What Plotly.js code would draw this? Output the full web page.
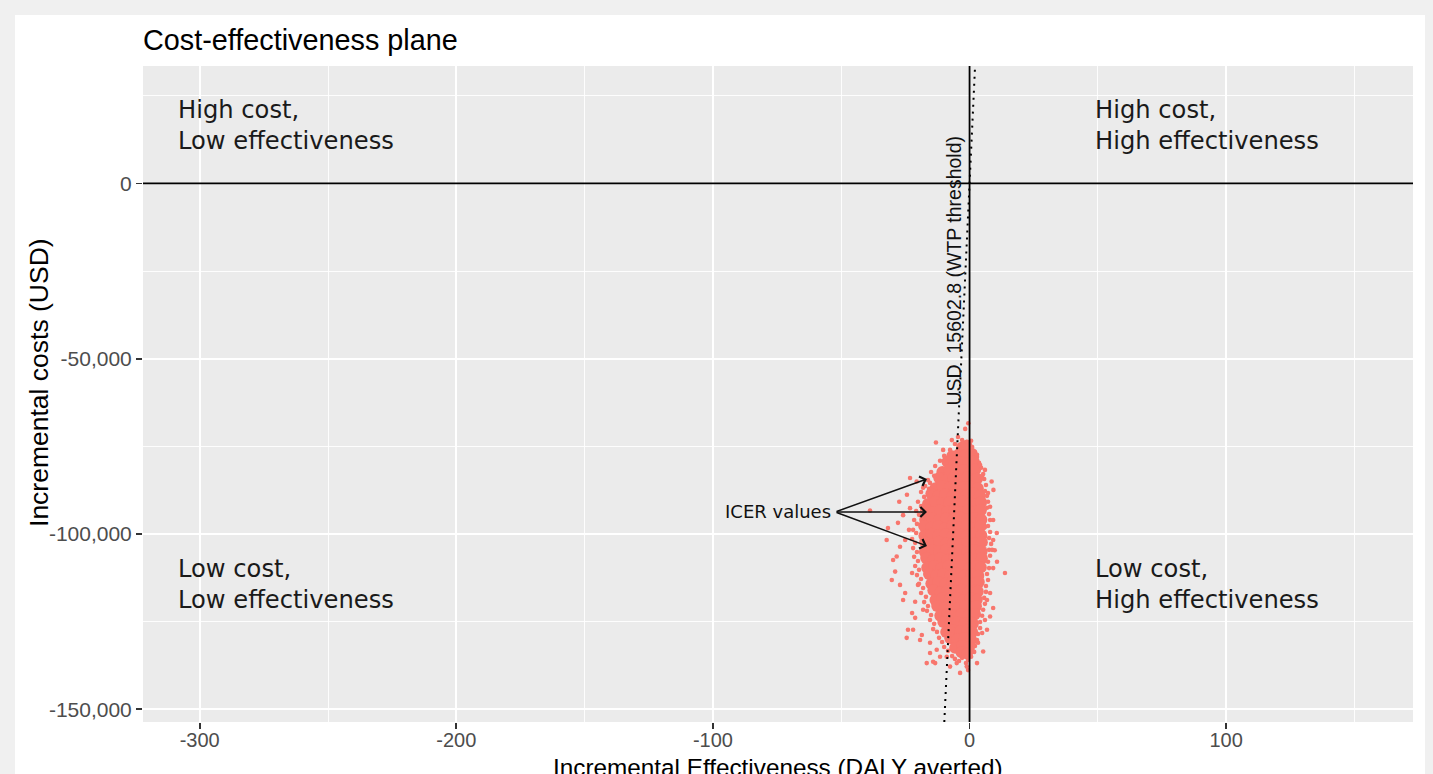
<!DOCTYPE html>
<html>
<head>
<meta charset="utf-8">
<script src="https://cdn.plot.ly/plotly-3.0.1.min.js"></script>
<style>
  html, body { margin: 0; padding: 0; background: #f0f0f0; width: 1433px; height: 774px; overflow: hidden; }
  #card { position: absolute; left: 15px; top: 15px; width: 1410px; height: 759px; background: #ffffff; }
  #plot { position: absolute; left: 0; top: 0; width: 1410px; height: 759px; }
</style>
</head>
<body>
<div id="card"><div id="plot"></div></div>
<script>
// ---------------- data ----------------
const chartTitle = "Cost-effectiveness plane";
const xTitle = "Incremental Effectiveness (DALY averted)";
const yTitle = "Incremental costs (USD)";

const xTickVals = [-300, -200, -100, 0, 100];
const xTickText = ["-300", "-200", "-100", "0", "100"];
const xMinorVals = [-250, -150, -50, 50, 150];
const yTickVals = [0, -50000, -100000, -150000];
const yTickText = ["0", "-50,000", "-100,000", "-150,000"];
const yMinorVals = [25000, -25000, -75000, -125000];

const xRange = [-322.1, 172.8];
const yRange = [-153600, 33500];

const wtp = 15602.8;
const wtpLabel = "USD\u00a0 15602.8 (WTP threshold)";
const wtpLabelPos = [-5.9, -24700];

const quadrantText = [
  "High cost,<br>Low effectiveness",
  "High cost,<br>High effectiveness",
  "Low cost,<br>Low effectiveness",
  "Low cost,<br>High effectiveness"
];
const quadrantX = [-309.4, 48.0, -309.4, 48.0];
const quadrantY = [16600, 16600, -114300, -114300];

const icerLabel = "ICER values";
const icerTail = [-52.4, -93700];
const icerHeadX = [-16.6, -16.6, -16.6];
const icerHeadY = [-84300, -93700, -103400];

// dense core of simulated ICER values [effect, cost]
const cloudCore = [
  [-2.9,-75300],[-1.2,-74800],
  [-6.8,-77800],[-4.1,-77200],[-1.5,-77600],[0.8,-77100],
  [-8.6,-79400],[-5.9,-80100],[-3.2,-79500],[-0.6,-79900],[1.6,-79300],
  [-10.6,-82300],[-7.9,-81700],[-5.1,-82200],[-2.4,-81800],[0.1,-82400],[2.2,-81600],
  [-11.8,-84000],[-9.0,-84600],[-6.3,-84100],[-3.6,-84500],[-0.9,-83900],[1.5,-84700],[2.9,-84200],
  [-13.3,-86900],[-10.5,-86300],[-7.8,-86800],[-5.0,-86200],[-2.3,-86700],[0.4,-86400],[3.2,-86900],
  [-14.9,-88500],[-12.1,-89100],[-9.4,-88600],[-6.6,-89200],[-3.9,-88700],[-1.2,-89000],[1.6,-88400],[4.0,-89100],
  [-16.2,-91400],[-13.4,-90800],[-10.7,-91300],[-7.9,-90900],[-5.2,-91500],[-2.5,-90700],[0.3,-91200],[3.0,-91500],[4.5,-90900],
  [-17.0,-93100],[-14.2,-93700],[-11.5,-93200],[-8.7,-93600],[-6.0,-93100],[-3.3,-93800],[-0.5,-93300],[2.2,-93600],[4.4,-93200],
  [-17.3,-95900],[-14.6,-95400],[-11.9,-96000],[-9.1,-95500],[-6.4,-95900],[-3.6,-95300],[-0.9,-95800],[1.8,-95400],[4.6,-95900],
  [-17.7,-97700],[-15.0,-98200],[-12.2,-97800],[-9.5,-98300],[-6.7,-97600],[-4.0,-98100],[-1.2,-97700],[1.5,-98300],[4.3,-97800],
  [-17.6,-100500],[-14.8,-99900],[-12.1,-100400],[-9.3,-100000],[-6.6,-100600],[-3.8,-100100],[-1.1,-100500],[1.7,-99900],[4.6,-100400],
  [-17.3,-102300],[-14.5,-102800],[-11.8,-102200],[-9.0,-102700],[-6.3,-102400],[-3.5,-102900],[-0.8,-102300],[2.0,-102700],[4.8,-102300],
  [-17.4,-105100],[-14.6,-104600],[-11.9,-105000],[-9.2,-104500],[-6.4,-105200],[-3.7,-104700],[-0.9,-105100],[1.9,-104600],[4.7,-105000],
  [-16.9,-106800],[-14.1,-107400],[-11.4,-106900],[-8.6,-107300],[-5.9,-106800],[-3.2,-107400],[-0.4,-106900],[2.3,-107300],[4.8,-106900],
  [-16.5,-109600],[-13.8,-109100],[-11.0,-109700],[-8.3,-109200],[-5.5,-109600],[-2.8,-109100],[0.0,-109700],[2.6,-109200],[4.4,-109500],
  [-15.8,-111400],[-13.0,-111900],[-10.3,-111400],[-7.5,-111900],[-4.8,-111300],[-2.0,-111800],[0.7,-111500],[3.4,-111900],
  [-14.9,-114200],[-12.2,-113700],[-9.4,-114100],[-6.7,-113600],[-3.9,-114200],[-1.2,-113800],[1.5,-114100],[3.6,-113700],
  [-14.1,-116000],[-11.3,-116500],[-8.6,-116000],[-5.8,-116400],[-3.1,-115900],[-0.3,-116500],[2.4,-116100],[3.2,-116400],
  [-13.3,-118800],[-10.6,-118300],[-7.8,-118700],[-5.1,-118200],[-2.3,-118800],[0.4,-118300],[2.8,-118700],
  [-12.6,-120500],[-9.8,-121000],[-7.1,-120600],[-4.3,-121100],[-1.6,-120500],[1.1,-120900],[2.5,-120600],
  [-11.4,-123300],[-8.7,-122800],[-5.9,-123200],[-3.2,-122900],[-0.4,-123300],[2.1,-122800],
  [-10.2,-125100],[-7.5,-125600],[-4.7,-125200],[-2.0,-125600],[0.7,-125100],[1.3,-125500],
  [-9.1,-127900],[-6.3,-127400],[-3.6,-127800],[-0.8,-127400],[1.0,-127900],
  [-7.5,-129700],[-4.8,-130100],[-2.0,-129700],[0.6,-130200],
  [-5.6,-132400],[-2.9,-131900],[-0.2,-132300],
  [-3.1,-133700],[-1.0,-134100]
];

// scattered edge and outlying ICER values [effect, cost]
const cloudEdge = [
  [-7.6,-76000],[-9.9,-77700],[-11.5,-79100],[-13.4,-80600],[-15.0,-82300],[-13.8,-83400],
  [-16.2,-84600],[-17.3,-86300],[-15.8,-87100],[-18.9,-88000],[-17.7,-89400],[-20.1,-90800],
  [-18.9,-92000],[-20.8,-93400],[-19.7,-94500],[-21.6,-96000],[-20.5,-97100],[-22.0,-98800],
  [-20.8,-99700],[-22.4,-101400],[-21.2,-102500],[-22.0,-104000],[-20.5,-105100],[-21.6,-106500],
  [-20.1,-107700],[-21.2,-109100],[-19.7,-110200],[-20.5,-111700],[-18.9,-112800],[-19.7,-114200],
  [-18.1,-115400],[-18.9,-116800],[-17.0,-117900],[-17.7,-119400],[-16.2,-120500],[-16.6,-121900],
  [-15.0,-123100],[-15.4,-124500],[-13.8,-125600],[-14.2,-127100],[-12.7,-127900],[-11.9,-129600],
  [-10.7,-130800],[-9.9,-132200],[-8.4,-133300],[-6.8,-134800],[-5.7,-135600],[-4.1,-136200],[-2.9,-135300],
  [1.0,-75200],[2.1,-76600],[2.9,-78000],[3.7,-79700],[4.5,-81100],[5.3,-82900],[5.7,-84300],
  [6.4,-86000],[6.0,-87700],[6.8,-89100],[7.2,-90800],[6.8,-92500],[7.6,-94300],[8.0,-96000],
  [7.2,-97700],[8.0,-99400],[7.6,-101100],[8.4,-102800],[7.6,-104500],[8.0,-106200],[7.2,-107900],
  [7.6,-109700],[6.8,-111400],[7.2,-113100],[6.4,-114800],[6.4,-116500],[5.7,-118200],[6.0,-119900],
  [5.3,-121600],[4.9,-123300],[4.1,-125100],[4.1,-126800],[3.3,-128500],[2.9,-130200],[2.1,-131900],
  [1.8,-133600],[0.6,-135000],[-0.6,-135900],[-1.4,-136800],
  [-5.7,-74300],[-2.9,-73200],[-1.0,-73700],[0.6,-73400],[-4.5,-72300],
  [-0.5,-68400],[-1.7,-70000],[-6.9,-73200],[-13.1,-73900],[-10.3,-76000],[4.1,-80300],[6.0,-81700],
  [8.6,-85000],[9.3,-87400],[-23.2,-84000],[-20.6,-85000],[-27.4,-90800],[-38.8,-93300],
  [-23.2,-92600],[-25.9,-94600],[-31.8,-98300],[-32.3,-101700],[-27.1,-103600],[-28.4,-106400],
  [10.6,-99700],[9.2,-101700],[9.8,-104600],[13.8,-111100],[-29.0,-110700],[-30.3,-113100],
  [-27.1,-114500],[-25.1,-116800],[-25.9,-118800],[-21.2,-119300],[-18.1,-121600],[9.2,-121100],
  [8.0,-123500],[6.0,-124500],[-24.0,-127300],[-22.0,-127300],[-24.5,-129600],[-18.6,-128800],
  [-15.4,-131000],[-12.8,-133000],[5.3,-133500],[-16.7,-136800],[-13.4,-136800],[-8.9,-135000],
  [-5.0,-136800],[-1.1,-137800],[-0.6,-138800],
  [-29.8,-107400],[-25.1,-101700],[-22.4,-111100],[-15.4,-85400],[-18.1,-86800],[-24.4,-88800],
  [-27.9,-96800],[-23.6,-98800],[-21.2,-123900],[-22.4,-122500],[-20.1,-114500],[-19.3,-130200],
  [-14.2,-136400],[8.0,-116800],[6.8,-118800],[4.9,-128200],[3.3,-131000],[2.9,-136800],
  [-3.7,-139600],[-7.6,-137800],[-11.5,-135000],[-15.4,-133900],
  [2.9,-77400],[4.9,-83700],[7.2,-88300],[8.0,-92200],[6.0,-98000],[9.2,-96000],[8.8,-104500],
  [9.2,-109700],[10.7,-107900],[6.8,-127300]
];

// ---------------- styles ----------------
const pointColor = "#F8766D";
const fontMain = "Arial, 'Liberation Sans', sans-serif";
const fontNote = "'DejaVu Sans', 'Noto Sans', sans-serif";

const traces = [
  {
    type: "scatter", mode: "markers", hoverinfo: "skip",
    x: cloudCore.map(p => p[0]), y: cloudCore.map(p => p[1]),
    marker: { color: pointColor, size: 12, line: { width: 0 } }
  },
  {
    type: "scatter", mode: "markers", hoverinfo: "skip",
    x: cloudEdge.map(p => p[0]), y: cloudEdge.map(p => p[1]),
    marker: { color: pointColor, size: 4.6, line: { width: 0 } }
  }
];

const shapes = [
  { type: "line", xref: "paper", yref: "y", x0: 0, x1: 1, y0: 0, y1: 0,
    line: { color: "#000", width: 1.8 }, layer: "above" },
  { type: "line", xref: "x", yref: "paper", x0: 0, x1: 0, y0: 0, y1: 1,
    line: { color: "#000", width: 1.8 }, layer: "above" },
  { type: "line", xref: "x", yref: "y",
    x0: yRange[0] / wtp, y0: yRange[0], x1: yRange[1] / wtp, y1: yRange[1],
    line: { color: "#000", width: 2, dash: "2px,5px" }, layer: "above" }
];

const annotations = [];
quadrantText.forEach((t, i) => {
  annotations.push({
    x: quadrantX[i], y: quadrantY[i], xref: "x", yref: "y", text: t,
    showarrow: false, xanchor: "left", yanchor: "middle", align: "left",
    font: { family: fontNote, size: 24.2, color: "#1a1a1a" }
  });
});
annotations.push({
  x: wtpLabelPos[0], y: wtpLabelPos[1], xref: "x", yref: "y", text: wtpLabel,
  showarrow: false, textangle: -90, xanchor: "center", yanchor: "middle",
  font: { family: fontMain, size: 19.5, color: "#111" }
});
annotations.push({
  x: icerTail[0] - 0.8, y: icerTail[1], xref: "x", yref: "y", text: icerLabel,
  showarrow: false, xanchor: "right", yanchor: "middle",
  font: { family: fontNote, size: 18, color: "#111" }
});
icerHeadX.forEach((hx, i) => {
  annotations.push({
    x: hx, y: icerHeadY[i], xref: "x", yref: "y",
    ax: icerTail[0], ay: icerTail[1], axref: "x", ayref: "y",
    text: "", showarrow: true, arrowhead: 4, arrowsize: 1.3, arrowwidth: 1.5,
    arrowcolor: "#111", standoff: 0, startstandoff: 0
  });
});
// axis titles placed as paper annotations (the x title is partly cut by the frame, as in the reference)
annotations.push({
  x: 0.5, y: -0.0701, xref: "paper", yref: "paper", text: xTitle,
  showarrow: false, xanchor: "center", yanchor: "middle",
  font: { family: fontMain, size: 24.3, color: "#000" }
});
annotations.push({
  x: -0.0819, y: 0.5183, xref: "paper", yref: "paper", text: yTitle,
  showarrow: false, textangle: -90, xanchor: "center", yanchor: "middle",
  font: { family: fontMain, size: 26.5, color: "#000" }
});

const axisCommon = {
  showline: false, zeroline: false, showgrid: true,
  gridcolor: "#ffffff", gridwidth: 1.8,
  ticks: "outside", ticklen: 6, tickwidth: 1.8, tickcolor: "#333333",
  fixedrange: true, automargin: false
};

const layout = {
  width: 1410, height: 759,
  margin: { l: 128, r: 12, t: 51, b: 52, pad: 0 },
  paper_bgcolor: "#ffffff", plot_bgcolor: "#EBEBEB",
  showlegend: false,
  title: {
    text: chartTitle, xref: "paper", x: 0, xanchor: "left",
    yref: "container", y: 1 - 25 / 759, yanchor: "middle",
    font: { family: fontMain, size: 28.8, color: "#000" }
  },
  xaxis: Object.assign({}, axisCommon, {
    range: xRange, tickmode: "array", tickvals: xTickVals, ticktext: xTickText,
    tickfont: { family: fontMain, size: 20, color: "#4D4D4D" },
    ticklabelstandoff: -6,
    minor: { tickmode: "array", tickvals: xMinorVals, showgrid: true, gridcolor: "#ffffff", gridwidth: 0.9, ticks: "" }
  }),
  yaxis: Object.assign({}, axisCommon, {
    range: yRange, tickmode: "array", tickvals: yTickVals, ticktext: yTickText,
    tickfont: { family: fontMain, size: 21, color: "#4D4D4D" },
    minor: { tickmode: "array", tickvals: yMinorVals, showgrid: true, gridcolor: "#ffffff", gridwidth: 0.9, ticks: "" }
  }),
  shapes: shapes,
  annotations: annotations
};

Plotly.newPlot("plot", traces, layout, { staticPlot: true, displayModeBar: false });
</script>
</body>
</html>
